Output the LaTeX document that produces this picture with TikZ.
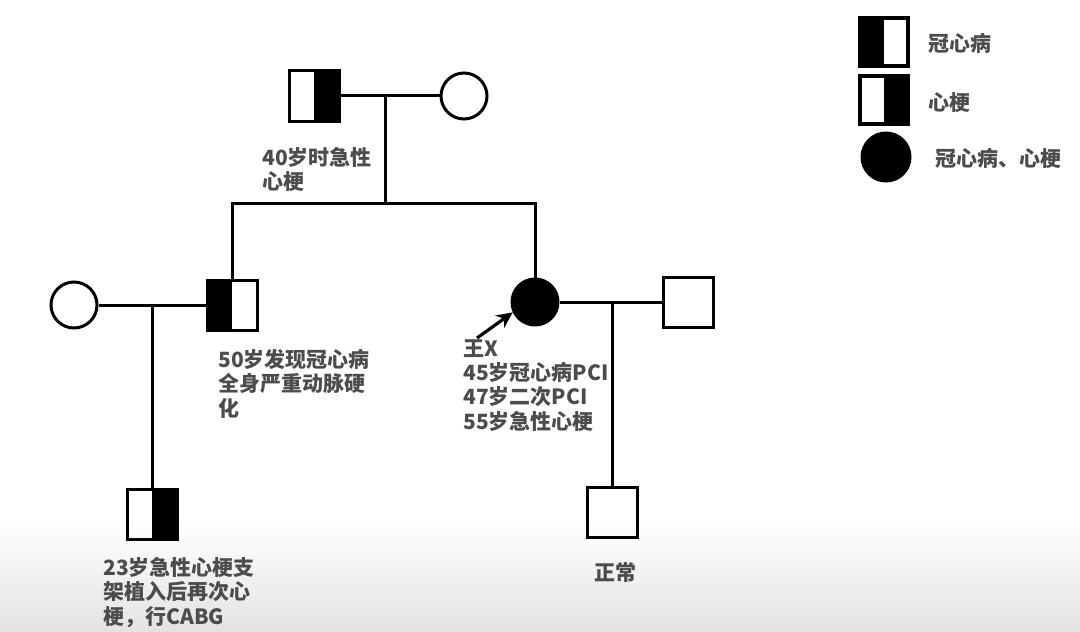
\documentclass[tikz,border=0pt]{standalone}
\usepackage{fontspec}
\setmainfont{Noto Sans CJK SC}
\usetikzlibrary{arrows.meta}

\tikzset{
  male/.style={draw, line width=1.5pt, minimum size=25pt, inner sep=0pt},
  female/.style={draw, circle, line width=1.5pt, minimum size=23pt, inner sep=0pt},
  lefthalf/.style={path picture={\fill (path picture bounding box.south west) rectangle (path picture bounding box.north);}},
  righthalf/.style={path picture={\fill (path picture bounding box.south) rectangle (path picture bounding box.north east);}},
  note/.style={align=left, anchor=north west, inner sep=0pt, text=black!70,
    font=\bfseries\fontsize{10.5}{12.2}\selectfont},
  link/.style={line width=1.5pt}
}

\begin{document}
\begin{tikzpicture}[x=0.5pt,y=-0.5pt]
  \useasboundingbox (0,0) rectangle (1080,631);
  \shade[top color=white, bottom color=black!11] (0,520) rectangle (1080,631);

  % generation I
  \node[male,righthalf] (gf) at (314,96) {};
  \node[female] (gm) at (464,96) {};
  \coordinate (c1) at (385,96);
  \coordinate (sib) at (385,203);
  \draw[link] (gf) -- (gm);
  \draw[link] (c1) -- (sib);
  \node[note] (t1) at (262,147) {40岁时急性\\心梗};

  % generation II
  \node[male,lefthalf] (son) at (232,305) {};
  \node[female] (wife) at (74,305) {};
  \node[female,fill] (proband) at (535,302) {};
  \node[male] (husband) at (688,302) {};
  \draw[link] (son.north) |- (sib) -| (proband.north);
  \draw[link] (wife) -- (son);
  \draw[link] (proband) -- (husband);
  \coordinate (m1) at (152,305);
  \coordinate (m2) at (612,302);
  \coordinate (pb) at (477,338);
  \draw[line width=1.6pt,-{Stealth[length=8pt,width=7.5pt]}] (pb) -- (proband.205);
  \node[note] (t2) at (218,349) {50岁发现冠心病\\全身严重动脉硬\\化};
  \node[note] (t3) at (463,339) {王X\\45岁冠心病PCI\\47岁二次PCI\\55岁急性心梗};

  % generation III
  \node[male,righthalf] (gson) at (152,514) {};
  \node[male] (child) at (612,512) {};
  \draw[link] (m1) -- (gson);
  \draw[link] (m2) -- (child);
  \node[note] (t4) at (103,557) {23岁急性心梗支\\架植入后再次心\\梗，行CABG};
  \node[note,anchor=center] (t5) at (615,573) {正常};

  % legend
  \node[male,lefthalf,minimum size=24pt,line width=1.8pt] (k1) at (884,42) {};
  \node[male,righthalf,minimum size=24pt,line width=1.8pt] (k2) at (884,100) {};
  \node[female,fill,minimum size=24pt] (k3) at (886,157) {};
  \node[note,anchor=west] (l1) at (928,43) {冠心病};
  \node[note,anchor=west] (l2) at (928,103) {心梗};
  \node[note,anchor=west] (l3) at (935,158) {冠心病、心梗};
\end{tikzpicture}
\end{document}
